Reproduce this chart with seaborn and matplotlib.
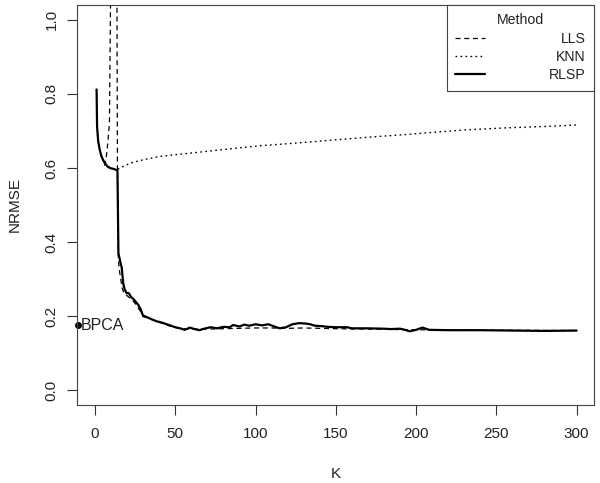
import matplotlib
matplotlib.use('Agg')
import matplotlib.pyplot as plt
import seaborn as sns

# NRMSE against K for the three methods
rlsp_k = [1, 1.3, 2, 3, 4, 5, 6, 8, 10, 12, 14, 14.6, 15, 15.6, 16.2, 16.6, 17.6, 18.5,
          19.7, 21, 22.8, 24, 25.5, 27, 28.5, 30, 33, 36, 38.4, 42, 46.7, 50, 53, 56,
          59, 62, 65, 68, 72, 76, 80, 84, 86, 90, 93, 96, 100, 104, 108, 111, 115, 119,
          123, 127, 131, 134, 137, 141, 145, 150, 157, 160, 170, 180, 184, 190, 193, 196,
          200, 204, 208, 220, 240, 260, 280, 300]
rlsp_nrmse = [0.812, 0.712, 0.672, 0.648, 0.632, 0.622, 0.614, 0.603, 0.599, 0.597, 0.593,
              0.370, 0.362, 0.350, 0.338, 0.333, 0.288, 0.272, 0.262, 0.262, 0.250, 0.246,
              0.238, 0.230, 0.218, 0.200, 0.196, 0.190, 0.186, 0.182, 0.175, 0.170, 0.167,
              0.163, 0.169, 0.165, 0.162, 0.166, 0.170, 0.167, 0.171, 0.170, 0.176, 0.172,
              0.177, 0.174, 0.178, 0.175, 0.178, 0.173, 0.167, 0.170, 0.178, 0.181, 0.180,
              0.178, 0.174, 0.173, 0.171, 0.170, 0.170, 0.167, 0.167, 0.166, 0.165, 0.166,
              0.163, 0.159, 0.163, 0.169, 0.163, 0.162, 0.162, 0.161, 0.160, 0.161]

lls_k = [6, 7, 8, 9, 10, 11, 12, 13, 14, 14.5, 15, 16, 17, 18, 20, 22, 24, 26, 28, 30,
         35, 40, 46.7, 50, 55, 60, 70, 80, 90, 100, 110, 120, 130, 140, 150, 170, 200,
         250, 300]
lls_nrmse = [0.606, 0.628, 0.668, 0.721, 1.2, 3.0, 3.0, 2.0, 0.595, 0.36, 0.33, 0.30,
             0.275, 0.262, 0.255, 0.248, 0.240, 0.228, 0.215, 0.203, 0.192, 0.184, 0.173,
             0.169, 0.166, 0.165, 0.165, 0.166, 0.167, 0.168, 0.168, 0.167, 0.168, 0.167,
             0.166, 0.165, 0.163, 0.162, 0.161]

knn_k = [1, 1.3, 2, 3, 5, 8, 12, 14, 17, 19.7, 21.8, 30, 40, 54.8, 70, 85, 102.7, 127.6,
         150, 170, 189.8, 210, 231, 260, 280, 300]
knn_nrmse = [0.812, 0.712, 0.672, 0.648, 0.622, 0.603, 0.597, 0.596, 0.603, 0.608, 0.613,
             0.622, 0.631, 0.638, 0.645, 0.652, 0.660, 0.668, 0.676, 0.683, 0.689, 0.696,
             0.703, 0.709, 0.712, 0.716]

bpca_k = [-10.4]
bpca_nrmse = [0.176]

methods = ['LLS', 'KNN', 'RLSP']
y_ticks = [0.0, 0.2, 0.4, 0.6, 0.8, 1.0]
x_ticks = [0, 50, 100, 150, 200, 250, 300]

sns.set_style('white')
plt.rcParams['font.family'] = ['Liberation Sans', 'DejaVu Sans']
ink = '#222222'

fig = plt.figure(figsize=(6, 4.83), dpi=100)
ax = fig.add_axes([77 / 600, 1 - 405 / 483, 517 / 600, 400 / 483])

sns.lineplot(x=lls_k, y=lls_nrmse, ax=ax, color='black', lw=0.9,
             linestyle=(0, (4, 3)), estimator=None, sort=False)
sns.lineplot(x=knn_k, y=knn_nrmse, ax=ax, color='black', lw=1.0,
             linestyle=(0, (1.2, 2.4)), estimator=None, sort=False)
sns.lineplot(x=rlsp_k, y=rlsp_nrmse, ax=ax, color='black', lw=1.6,
             estimator=None, sort=False)

# BPCA reference value
ax.plot(bpca_k, bpca_nrmse, 'o', color='black', ms=4, clip_on=False)
ax.annotate('BPCA', (bpca_k[0], bpca_nrmse[0]), xytext=(1.5, 0),
            textcoords='offset points', ha='left', va='center', fontsize=11.5, color=ink)

ax.set_xlim(-11.2, 310.8)
ax.set_ylim(-0.04, 1.04)
ax.set_xticks(x_ticks)
ax.set_yticks(y_ticks)
ax.set_xticklabels([str(t) for t in x_ticks])
ax.set_yticklabels(['%.1f' % t for t in y_ticks], rotation=90, va='center')
ax.tick_params(length=7.2, width=0.8, color='#333333', labelsize=11, labelcolor=ink,
               direction='out', left=True, bottom=True)
ax.tick_params(axis='x', pad=8.5)
ax.tick_params(axis='y', pad=6)
for sp in ax.spines.values():
    sp.set_visible(True)
    sp.set_color('#444444')
    sp.set_linewidth(0.8)

ax.set_xlabel('K', fontsize=11, color=ink, va='center')
ax.xaxis.set_label_coords(0.5, (405 - 474) / 400)
ax.set_ylabel('NRMSE', fontsize=11, color=ink, va='center', ha='center')
ax.yaxis.set_label_coords((15 - 77) / 517, 0.5)

leg = ax.legend(handles=ax.lines[:3], labels=methods, title='Method', loc='upper right',
                bbox_to_anchor=(1, 1), borderaxespad=0, fancybox=False, framealpha=1,
                edgecolor='#444444', fontsize=10.2, title_fontsize=10.2,
                handlelength=2.1, handletextpad=4.5, labelspacing=0.3, borderpad=0.6)
leg.get_frame().set_linewidth(0.8)
leg.get_title().set_color(ink)
for t in leg.get_texts():
    t.set_color(ink)

# right-align the legend labels like R does
fig.canvas.draw()
renderer = fig.canvas.get_renderer()
widths = [t.get_window_extent(renderer).width for t in leg.get_texts()]
items = leg._legend_handle_box.get_children()[0].get_children()
for item, w in zip(items, widths):
    item.sep += (max(widths) - w) * 72 / fig.dpi

fig.savefig('out.png', dpi=100)
